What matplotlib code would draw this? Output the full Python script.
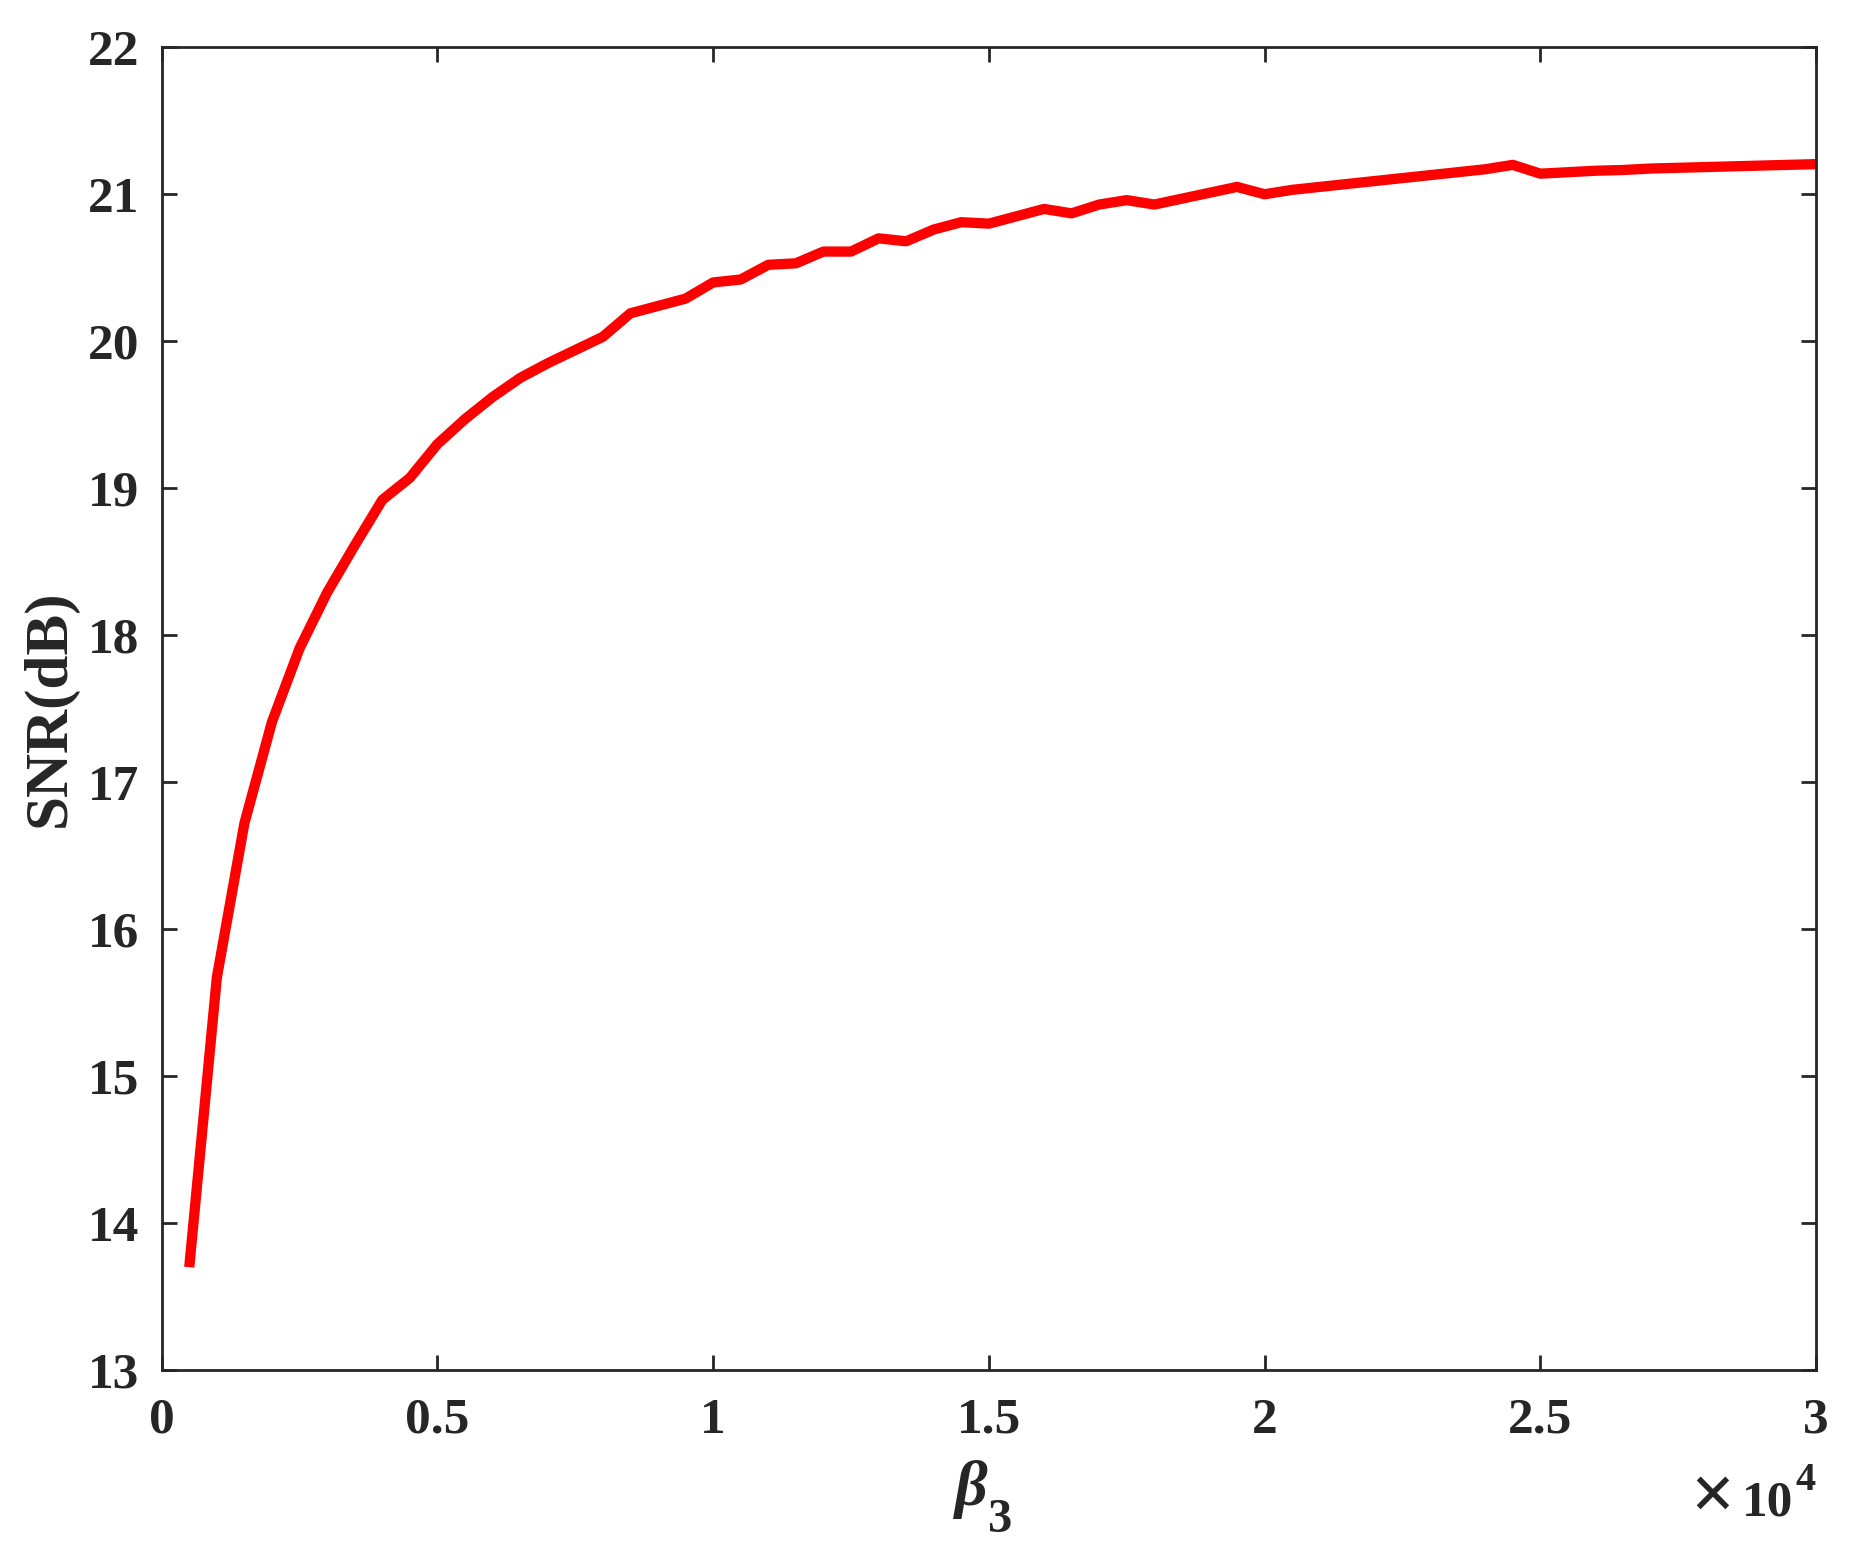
import numpy as np
import matplotlib
matplotlib.use("Agg")
import matplotlib.pyplot as plt

plt.rcParams['font.family'] = ['Liberation Serif', 'DejaVu Serif']
plt.rcParams['font.weight'] = 'bold'

# beta_3 values and resulting SNR (dB)
beta3 = [500, 1000, 1500, 2000, 2500, 3000, 3500, 4000, 4500, 5000,
         5500, 6000, 6500, 7000, 7500, 8000, 8500, 9000, 9500, 10000,
         10500, 11000, 11500, 12000, 12500, 13000, 13500, 14000, 14500, 15000,
         15500, 16000, 16500, 17000, 17500, 18000, 18500, 19000, 19500, 20000,
         20500, 21000, 21500, 22000, 22500, 23000, 23500, 24000, 24500, 25000,
         25500, 26000, 26500, 27000, 27500, 28000, 28500, 29000, 29500, 30000]
snr = [13.70, 15.67, 16.72, 17.41, 17.91, 18.29, 18.61, 18.92, 19.07, 19.30,
       19.47, 19.62, 19.75, 19.85, 19.94, 20.03, 20.19, 20.24, 20.29, 20.40,
       20.42, 20.52, 20.53, 20.61, 20.61, 20.70, 20.68, 20.76, 20.81, 20.80,
       20.85, 20.90, 20.87, 20.93, 20.96, 20.93, 20.97, 21.01, 21.05, 21.00,
       21.03, 21.05, 21.07, 21.09, 21.11, 21.13, 21.15, 21.17, 21.20, 21.14,
       21.15, 21.16, 21.165, 21.175, 21.18, 21.185, 21.19, 21.195, 21.20, 21.205]

xticks = [0, 5000, 10000, 15000, 20000, 25000, 30000]
xticklabels = ['0', '0.5', '1', '1.5', '2', '2.5', '3']
yticks = [13, 14, 15, 16, 17, 18, 19, 20, 21, 22]

fig = plt.figure(figsize=(9.26, 7.75), dpi=200)
ax = fig.add_axes([0.0873, 0.1161, 0.8933, 0.8534])

ax.plot(beta3, snr, color='#ff0000', lw=3.7, solid_capstyle='butt', solid_joinstyle='round')

ax.set_xlim(0, 30000)
ax.set_ylim(13, 22)
ax.set_xticks(xticks)
ax.set_xticklabels(xticklabels)
ax.set_yticks(yticks)

axcol = '#262626'
for s in ax.spines.values():
    s.set_linewidth(1.0)
    s.set_color(axcol)
ax.tick_params(direction='in', length=5.4, width=1.0, colors=axcol,
               labelsize=18.5, top=True, right=True)
ax.tick_params(axis='y', pad=8)
ax.tick_params(axis='x', pad=10)

ax.set_ylabel('SNR(dB)', fontsize=22, fontweight='bold', color=axcol, va='center')
ax.yaxis.set_label_coords(-0.0675, 0.5)

# x label: beta with subscript 3
ax.text(0.4995, -0.102, 'β', transform=ax.transAxes, ha='right', va='baseline',
        fontsize=23, fontstyle='italic', fontweight='bold', color=axcol)
ax.text(0.4995, -0.1224, '3', transform=ax.transAxes, ha='left', va='baseline',
        fontsize=17.5, fontweight='bold', color=axcol)

# exponent of x axis
ax.text(0.9505, -0.1125, '×', transform=ax.transAxes, ha='right', va='baseline',
        fontsize=28, fontweight='bold', color=axcol)
ax.text(0.9863, -0.1096, '10', transform=ax.transAxes, ha='right', va='baseline',
        fontsize=18.5, fontweight='bold', color=axcol)
ax.text(0.9875, -0.0907, '4', transform=ax.transAxes, ha='left', va='baseline',
        fontsize=14.5, fontweight='bold', color=axcol)

fig.savefig('out.png', dpi=200)
